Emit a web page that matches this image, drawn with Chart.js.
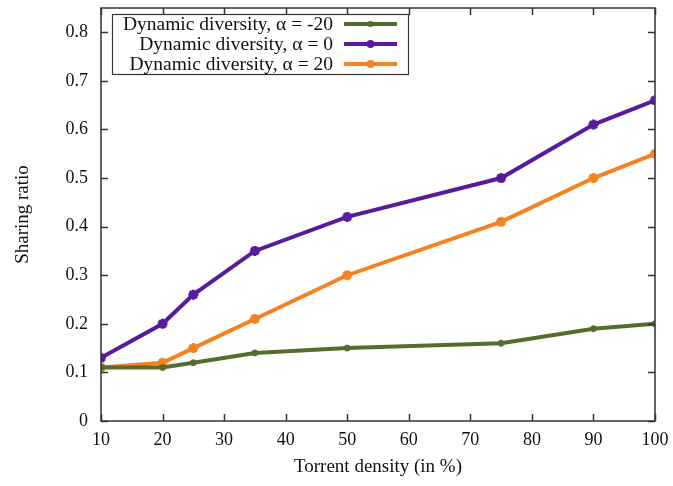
<!DOCTYPE html>
<html>
<head>
<meta charset="utf-8">
<style>
  html, body { margin: 0; padding: 0; background: #ffffff; }
  #wrap { width: 673px; height: 486px; }
</style>
<script src="https://cdn.jsdelivr.net/npm/chart.js@4/dist/chart.umd.min.js"></script>
</head>
<body>
<div id="wrap"><canvas id="c" width="673" height="486"></canvas></div>
<script>
// Torrent density (%) on the x axis
const densities = [10, 20, 25, 35, 50, 75, 90, 100];
// Sharing ratio for each diversity setting
const ratioMinus20 = [0.11, 0.11, 0.12, 0.14, 0.15, 0.16, 0.19, 0.20];
const ratioZero    = [0.13, 0.20, 0.26, 0.35, 0.42, 0.50, 0.61, 0.66];
const ratioPlus20  = [0.11, 0.12, 0.15, 0.21, 0.30, 0.41, 0.50, 0.55];
const seriesLabels = ['Dynamic diversity, \u03B1 = -20', 'Dynamic diversity, \u03B1 = 0', 'Dynamic diversity, \u03B1 = 20'];
const xTicks = [10, 20, 30, 40, 50, 60, 70, 80, 90, 100];
const yTicks = [0, 0.1, 0.2, 0.3, 0.4, 0.5, 0.6, 0.7, 0.8];

const SERIF = '"Liberation Serif", "DejaVu Serif", serif';
const GREEN = '#546d2c';
const PURPLE = '#5a1a9c';
const ORANGE = '#f58220';

function pts(vals) { return densities.map((d, i) => ({ x: d, y: vals[i] })); }

// Frame with inward ticks on all four sides, plus the legend box
const framePlugin = {
  id: 'frame',
  afterDatasetsDraw(chart) {
    const { ctx, chartArea: a, scales } = chart;
    ctx.save();
    ctx.strokeStyle = '#333333';
    ctx.lineWidth = 1.5;
    ctx.strokeRect(a.left, a.top, a.right - a.left, a.bottom - a.top);
    const t = 7;
    ctx.beginPath();
    xTicks.forEach(v => {
      const x = Math.round(scales.x.getPixelForValue(v)) + 0.5;
      ctx.moveTo(x, a.bottom); ctx.lineTo(x, a.bottom - t);
      ctx.moveTo(x, a.top); ctx.lineTo(x, a.top + t);
    });
    yTicks.forEach(v => {
      const y = Math.round(scales.y.getPixelForValue(v)) + 0.5;
      ctx.moveTo(a.left, y); ctx.lineTo(a.left + t, y);
      ctx.moveTo(a.right, y); ctx.lineTo(a.right - t, y);
    });
    ctx.stroke();

    // legend
    const bx = 112, by = 14, bw = 296, bh = 60;
    ctx.fillStyle = '#ffffff';
    ctx.fillRect(bx, by, bw, bh);
    ctx.strokeStyle = '#333333';
    ctx.lineWidth = 1.2;
    ctx.strokeRect(bx + 0.5, by + 0.5, bw, bh);
    ctx.font = '19.5px ' + SERIF;
    ctx.textAlign = 'right';
    ctx.textBaseline = 'middle';
    chart.data.datasets.forEach((ds, i) => {
      const cy = by + 10 + i * 20;
      ctx.fillStyle = '#111111';
      ctx.fillText(ds.label, 333, cy + 1);
      ctx.strokeStyle = ds.borderColor;
      ctx.lineWidth = 4;
      ctx.beginPath();
      ctx.moveTo(344, cy); ctx.lineTo(397, cy);
      ctx.stroke();
      ctx.fillStyle = ds.borderColor;
      ctx.beginPath();
      ctx.arc(370.5, cy, i === 0 ? 3 : 4, 0, Math.PI * 2);
      ctx.fill();
    });
    ctx.restore();
  }
};

new Chart(document.getElementById('c'), {
  type: 'line',
  data: {
    datasets: [
      { label: seriesLabels[0], data: pts(ratioMinus20), borderColor: GREEN, backgroundColor: GREEN,
        pointStyle: 'circle', pointRadius: 3, pointBorderWidth: 1 },
      { label: seriesLabels[1], data: pts(ratioZero), borderColor: PURPLE, backgroundColor: PURPLE,
        pointStyle: 'star', pointRadius: 5, pointBorderWidth: 3 },
      { label: seriesLabels[2], data: pts(ratioPlus20), borderColor: ORANGE, backgroundColor: ORANGE,
        pointStyle: 'star', pointRadius: 5, pointBorderWidth: 3 }
    ].map(d => Object.assign({ borderWidth: 4, tension: 0, fill: false }, d))
  },
  options: {
    responsive: false,
    animation: false,
    layout: { padding: { top: 7, right: 18, left: 0, bottom: 0 } },
    plugins: { legend: { display: false }, tooltip: { enabled: false } },
    scales: {
      x: {
        type: 'linear', min: 10, max: 100,
        afterBuildTicks(s) { s.ticks = xTicks.map(v => ({ value: v })); },
        afterFit(s) { s.height = 65; s.paddingLeft = 0; s.paddingRight = 0; },
        grid: { display: false, drawTicks: false },
        border: { display: false },
        ticks: { padding: 8, color: '#111111', font: { family: SERIF, size: 18 }, maxRotation: 0 },
        title: { display: true, text: 'Torrent density (in %)', color: '#111111',
                 font: { family: SERIF, size: 19 }, padding: { top: 0, bottom: 8 } }
      },
      y: {
        type: 'linear', min: 0, max: 0.85,
        afterBuildTicks(s) { s.ticks = yTicks.map(v => ({ value: v })); },
        afterFit(s) { s.width = 101; s.paddingTop = 0; s.paddingBottom = 0; },
        grid: { display: false, drawTicks: false },
        border: { display: false },
        ticks: { padding: 13, color: '#111111', font: { family: SERIF, size: 18 },
                 callback: v => String(Math.round(v * 10) / 10) },
        title: { display: true, text: 'Sharing ratio', color: '#111111',
                 font: { family: SERIF, size: 19 }, padding: { top: 12, bottom: 0 } }
      }
    }
  },
  plugins: [framePlugin]
});
</script>
</body>
</html>
